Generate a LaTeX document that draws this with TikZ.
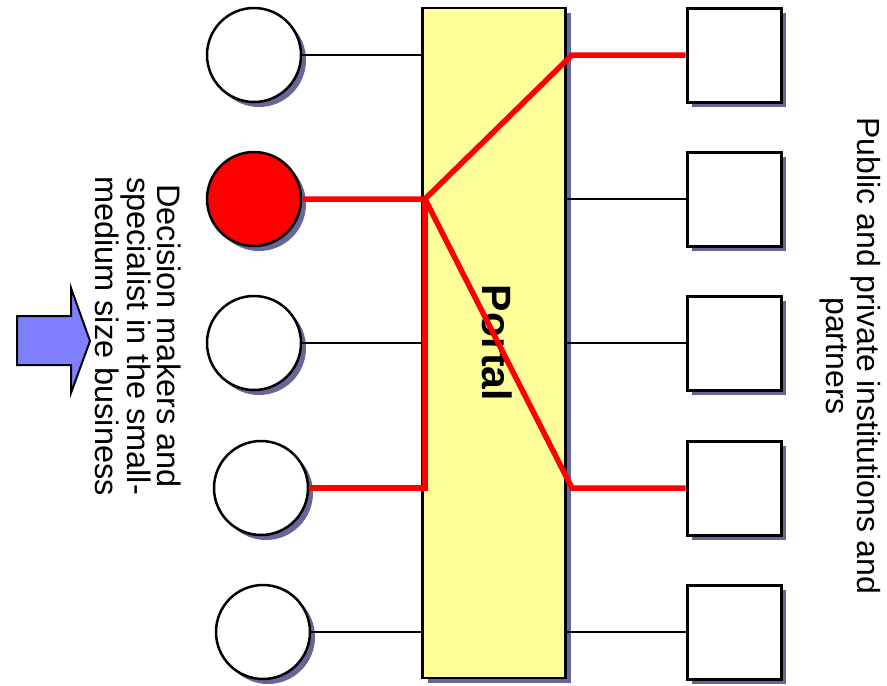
\documentclass[tikz,border=0pt]{standalone}
\usepackage{fontspec}
\setmainfont{Liberation Sans}
\usetikzlibrary{shadows}
\definecolor{portalyellow}{RGB}{255,255,153}
\definecolor{shadowblue}{RGB}{102,102,153}
\definecolor{arrowblue}{RGB}{128,128,255}

\begin{document}
\begin{tikzpicture}[x=1pt,y=-1pt,
    castshadow/.style={drop shadow={shadow xshift=5pt,shadow yshift=-5pt,fill=shadowblue,opacity=1}},
    person/.style={circle,draw,line width=2.5pt,fill=white,minimum size=94pt,inner sep=0pt,castshadow},
    partner/.style={rectangle,draw,line width=3pt,fill=white,minimum size=94pt,inner sep=0pt,castshadow},
    portalbox/.style={rectangle,draw,line width=2.5pt,fill=portalyellow,minimum width=143pt,minimum height=670pt,inner sep=0pt,castshadow},
    link/.style={line width=2.5pt},
    route/.style={red,line width=5.5pt},
    caption/.style={rotate=-90,align=center,inner sep=0pt}]
      \useasboundingbox (0,0) rectangle (887,686);

      \node[portalbox] (portal) at (494,343) {};
      \node[rotate=-90,font=\fontsize{41}{41}\selectfont\bfseries] (portaltitle) at (497,343) {Portal};

      \node[person] (c1) at (254,55) {};
      \node[person,fill=red] (c2) at (254,199) {};
      \node[person] (c3) at (254,343) {};
      \node[person] (c4) at (261,488) {};
      \node[person] (c5) at (263,632) {};

      \node[partner] (s1) at (734,55) {};
      \node[partner] (s2) at (734,199) {};
      \node[partner] (s3) at (734,343) {};
      \node[partner] (s4) at (734,488) {};
      \node[partner] (s5) at (734,632) {};

      \draw[link] (c1) -- (c1 -| portal.west);
      \draw[link] (c3) -- (c3 -| portal.west);
      \draw[link] (c5) -- (c5 -| portal.west);
      \draw[link] (s2) -- (s2 -| portal.east);
      \draw[link] (s3) -- (s3 -| portal.east);
      \draw[link] (s5) -- (s5 -| portal.east);

      \coordinate (hub) at (425,199);
      \coordinate (foot) at (425,488);
      \coordinate (bendtop) at (572,55);
      \coordinate (bendlow) at (572,488);
      \draw[route] (c2) -- (hub) -- (bendtop) -- (s1);
      \draw[route] (hub) -- (bendlow) -- (s4);
      \draw[route] (c4) -- (foot) -- (hub);

      \draw[line width=2pt,fill=arrowblue] (17,316) -- (71,316) -- (71,288) -- (90,341) -- (71,393) -- (71,365) -- (17,365) -- cycle;

      \node[caption,font=\fontsize{32.5}{30}\selectfont] (users) at (138,336) {Decision makers and\\specialist in the small-\\medium size business};
      \node[caption,font=\fontsize{32}{31}\selectfont] (partners) at (850,356) {Public and private institutions and\\partners};
\end{tikzpicture}
\end{document}
